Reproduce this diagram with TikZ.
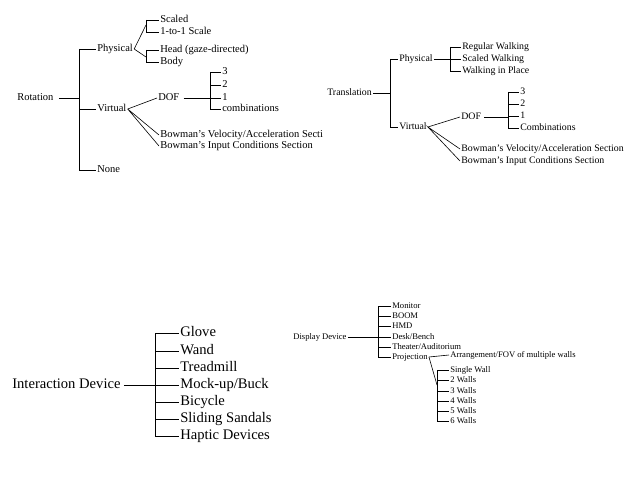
\documentclass[tikz,border=0pt]{standalone}
\usepackage{fontspec}
\setmainfont{Liberation Serif}
\tikzset{
  lbl/.style={anchor=west, inner sep=1pt},
  rotlbl/.style={lbl, font=\fontsize{10.5}{12}\selectfont, text height=7.3pt, text depth=2.1pt},
  trlbl/.style={lbl, font=\fontsize{9.85}{11}\selectfont, text height=6.9pt, text depth=2pt},
  ialbl/.style={lbl, font=\fontsize{14.6}{16}\selectfont, text height=10.2pt, text depth=2.9pt},
  ddlbl/.style={lbl, font=\fontsize{8.6}{10}\selectfont, text height=6pt, text depth=1.7pt},
}
\begin{document}
\begin{tikzpicture}[x=1pt,y=-1pt,line width=0.6pt]
\useasboundingbox (0,0) rectangle (639,478);

% rotation
\node[rotlbl] (rot) at (16,98) {Rotation};
\node[rotlbl] (rphys) at (96,49) {Physical};
\node[rotlbl] (rvirt) at (96,109) {Virtual};
\node[rotlbl] (rnone) at (96,170) {None};
\coordinate (rbar) at (79,0);
\draw ([xshift=4pt]rot.east) -- (rbar |- rot.east);
\draw (rbar |- rphys.west) -- (rbar |- rnone.west);
\foreach \n in {rphys,rvirt,rnone} \draw (rbar |- \n.west) -- (\n.west);

\node[rotlbl] (rscal) at (159,20) {Scaled};
\node[rotlbl] (rone) at (159,32) {1-to-1 Scale};
\node[rotlbl] (rhead) at (159,50) {Head (gaze-directed)};
\node[rotlbl] (rbody) at (159,62) {Body};
\coordinate (rpb) at (146,0);
\coordinate (rpu) at (146,25);
\coordinate (rpl) at (146,57);
\draw (rpb |- rscal.west) -- (rpb |- rone.west);
\draw (rpb |- rhead.west) -- (rpb |- rbody.west);
\foreach \n in {rscal,rone,rhead,rbody} \draw (rpb |- \n.west) -- (\n.west);
\draw (rpu) -- (rphys.east) -- (rpl);

\node[rotlbl] (rdof) at (157,98) {DOF};
\node[rotlbl] (rd3) at (221,72) {3};
\node[rotlbl] (rd2) at (221,85) {2};
\node[rotlbl] (rd1) at (221,98) {1};
\node[rotlbl] (rdc) at (221,109) {combinations};
\coordinate (rdb) at (210,0);
\draw (rvirt.east) -- (rdof.west);
\draw ([xshift=3pt]rdof.east) -- (rdb |- rdof.east);
\draw (rdb |- rd3.west) -- (rdb |- rdc.west);
\foreach \n in {rd3,rd2,rd1,rdc} \draw (rdb |- \n.west) -- (\n.west);

\node[rotlbl] (rbv) at (159,135) {Bowman's Velocity/Acceleration Secti};
\node[rotlbl] (rbi) at (159,146) {Bowman's Input Conditions Section};
\draw (rbv.west) -- (rvirt.east) -- (rbi.west);

% translation
\node[trlbl] (tr) at (326,93) {Translation};
\node[trlbl] (tphys) at (398,59) {Physical};
\node[trlbl] (tvirt) at (398,127) {Virtual};
\coordinate (tbar) at (390,0);
\draw (tr.east) -- (tbar |- tr.east);
\draw (tbar |- tphys.west) -- (tbar |- tvirt.west);
\foreach \n in {tphys,tvirt} \draw (tbar |- \n.west) -- (\n.west);

\node[trlbl] (treg) at (461,47) {Regular Walking};
\node[trlbl] (tsca) at (461,59) {Scaled Walking};
\node[trlbl] (twip) at (461,71) {Walking in Place};
\coordinate (tpb) at (450,0);
\draw (tphys.east) -- (tpb |- tphys.east);
\draw (tpb |- treg.west) -- (tpb |- twip.west);
\foreach \n in {treg,tsca,twip} \draw (tpb |- \n.west) -- (\n.west);

\node[trlbl] (tdof) at (460,117) {DOF};
\node[trlbl] (td3) at (519,92) {3};
\node[trlbl] (td2) at (519,104) {2};
\node[trlbl] (td1) at (519,116) {1};
\node[trlbl] (tdc) at (519,128) {Combinations};
\coordinate (tdb) at (508,0);
\draw (tvirt.east) -- (tdof.west);
\draw ([xshift=2pt]tdof.east) -- (tdb |- tdof.east);
\draw (tdb |- td3.west) -- (tdb |- tdc.west);
\foreach \n in {td3,td2,td1,tdc} \draw (tdb |- \n.west) -- (\n.west);

\node[trlbl] (tbv) at (460,149) {Bowman's Velocity/Acceleration Section};
\node[trlbl] (tbi) at (460,161) {Bowman's Input Conditions Section};
\draw (tbv.west) -- (tvirt.east) -- (tbi.west);

% interaction device
\node[ialbl] (ia) at (11,385) {Interaction Device};
\coordinate (ibar) at (155,0);
\draw[line width=0.9pt] ([xshift=2pt]ia.east) -- (ibar |- ia.east);
\foreach \t/\y [count=\i] in {Glove/333,Wand/351,Treadmill/368,{Mock-up/Buck}/385,Bicycle/402,Sliding Sandals/419,Haptic Devices/436}
  \node[ialbl] (ic\i) at (179,\y) {\t};
\draw[line width=0.9pt] (ibar |- ic1.west) -- (ibar |- ic7.west);
\foreach \i in {1,...,7} \draw[line width=0.9pt] (ibar |- ic\i.west) -- (ic\i.west);

% display device
\node[ddlbl] (dd) at (292,337) {Display Device};
\coordinate (dbar) at (378,0);
\draw (dd.east) -- (dbar |- dd.east);
\foreach \t/\y [count=\i] in {Monitor/306,BOOM/316,HMD/326,{Desk/Bench}/337,{Theater/Auditorium}/347,Projection/357}
  \node[ddlbl] (dc\i) at (391,\y) {\t};
\draw (dbar |- dc1.west) -- (dbar |- dc6.west);
\foreach \i in {1,...,6} \draw (dbar |- dc\i.west) -- (dc\i.west);

\node[ddlbl] (darr) at (449,355) {Arrangement/FOV of multiple walls};
\draw (dc6.east) -- (darr.west);
\foreach \t/\y [count=\i] in {Single Wall/370,2 Walls/380.5,3 Walls/391,4 Walls/401,5 Walls/411,6 Walls/421}
  \node[ddlbl] (dw\i) at (449,\y) {\t};
\coordinate (dwb) at (437,0);
\coordinate (dwj) at (437,385);
\draw (dc6.east) -- (dwj);
\draw (dwb |- dw1.west) -- (dwb |- dw6.west);
\foreach \i in {1,...,6} \draw (dwb |- dw\i.west) -- (dw\i.west);
\end{tikzpicture}
\end{document}
